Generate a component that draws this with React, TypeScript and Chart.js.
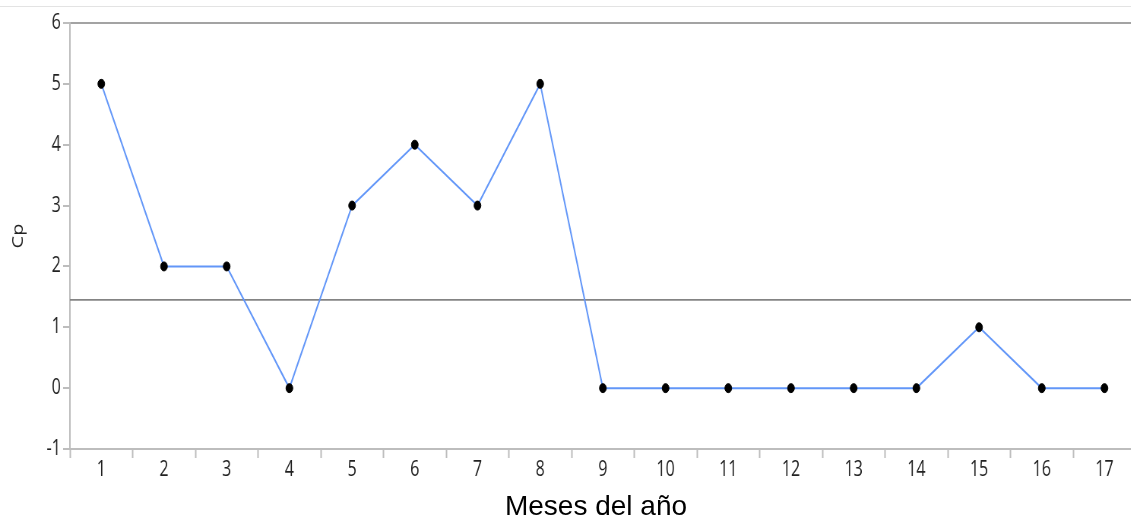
import { useEffect, useRef } from "react";
import { Chart, registerables } from "chart.js";

Chart.register(...registerables);

// ---- data ----
const months = ["1", "2", "3", "4", "5", "6", "7", "8", "9", "10", "11", "12", "13", "14", "15", "16", "17"];
const cpValues = [5, 2, 2, 0, 3, 4, 3, 5, 0, 0, 0, 0, 0, 0, 1, 0, 0];
const referenceLine = 1.45;
const yMin = -1;
const yMax = 6;
const yStep = 1;
const xTitle = "Meses del año";
const yTitle = "Cp";

// the reference picture is horizontally squeezed; render wide and compress with CSS
const SQUEEZE = 0.76;
const CSS_W = 1140;
const H = 519;
const INT_W = Math.round(CSS_W / SQUEEZE);
const TICK_FONT = { family: "'Open Sans', 'Noto Sans', sans-serif", size: 21 };

const refLinePlugin = {
  id: "refLine",
  beforeDatasetsDraw(chart: any) {
    const { ctx, chartArea, scales } = chart;
    const y = scales.y.getPixelForValue(referenceLine);
    ctx.save();
    ctx.strokeStyle = "#848484";
    ctx.lineWidth = 1.8;
    ctx.beginPath();
    ctx.moveTo(chartArea.left, y);
    ctx.lineTo(chartArea.right, y);
    ctx.stroke();
    ctx.restore();
  },
};

export default function App() {
  const canvasRef = useRef<HTMLCanvasElement | null>(null);

  useEffect(() => {
    if (!canvasRef.current) return;
    const chart = new Chart(canvasRef.current, {
      type: "line",
      data: {
        labels: months,
        datasets: [
          {
            data: cpValues,
            borderColor: "#6296f8",
            borderWidth: 2,
            pointBackgroundColor: "#000",
            pointBorderColor: "#000",
            pointBorderWidth: 1,
            pointRadius: 4.5,
            pointHoverRadius: 4.5,
            tension: 0,
            fill: false,
          },
        ],
      },
      options: {
        responsive: false,
        animation: false,
        events: [],
        layout: { padding: { top: 23, left: 0, right: 0, bottom: 0 } },
        plugins: {
          legend: { display: false },
          tooltip: { enabled: false },
          title: { display: false },
        },
        scales: {
          x: {
            type: "category",
            offset: true,
            afterFit: (s: any) => {
              s.height = H - 449;
            },
            ticks: {
              color: "#222",
              font: TICK_FONT,
              padding: -1,
              maxRotation: 0,
              autoSkip: false,
            },
            grid: {
              offset: true,
              drawOnChartArea: false,
              tickColor: "#bdbdbd",
              tickWidth: 2,
              tickLength: 9,
            },
            border: { display: true, color: "#bdbdbd", width: 2 },
          },
          y: {
            min: yMin,
            max: yMax,
            afterFit: (s: any) => {
              s.width = Math.round(70 / SQUEEZE);
            },
            ticks: {
              stepSize: yStep,
              color: "#222",
              font: TICK_FONT,
              padding: 3,
            },
            grid: {
              drawOnChartArea: true,
              color: (c: any) => (c.tick && c.tick.value === yMax ? "#a3a3a3" : "rgba(0,0,0,0)"),
              lineWidth: 2,
              tickColor: "#bdbdbd",
              tickWidth: 2,
              tickLength: 9,
            },
            border: { display: true, color: "#bdbdbd", width: 2 },
            title: {
              display: true,
              text: yTitle,
              color: "#222",
              font: { family: "'Open Sans', 'Noto Sans', sans-serif", size: 20 },
              padding: { top: 12, bottom: 0 },
            },
          },
        },
      },
      plugins: [refLinePlugin],
    });
    return () => chart.destroy();
  }, []);

  return (
    <div
      style={{
        position: "absolute",
        left: 0,
        top: 0,
        width: 1131,
        height: H,
        overflow: "hidden",
        background: "#fff",
      }}
    >
      <div style={{ position: "absolute", left: 0, top: 6, width: 1131, height: 1, background: "#e3e3e3" }} />
      <canvas
        ref={canvasRef}
        width={INT_W}
        height={H}
        style={{ position: "absolute", left: 0, top: 0, width: CSS_W + "px", height: H + "px", display: "block" }}
      />
      <div
        style={{
          position: "absolute",
          left: 0,
          top: 492,
          width: 1192,
          textAlign: "center",
          fontFamily: "'Liberation Sans', Arial, sans-serif",
          fontSize: 28,
          lineHeight: "28px",
          color: "#000",
          whiteSpace: "nowrap",
        }}
      >
        {xTitle}
      </div>
    </div>
  );
}
